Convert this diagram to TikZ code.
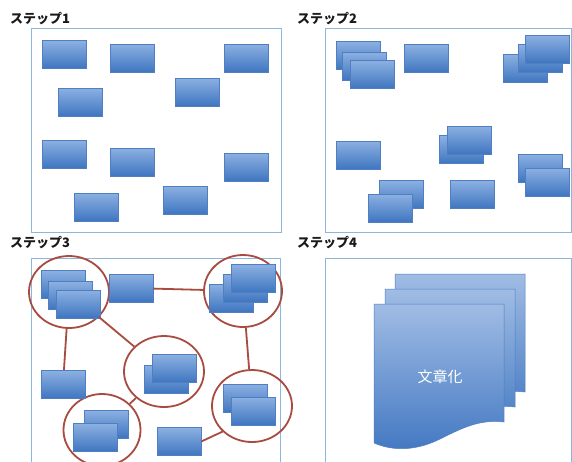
\documentclass[tikz,border=0pt]{standalone}
\usepackage{fontspec}
\newfontfamily\jp{Noto Sans CJK JP}
\usetikzlibrary{shapes.geometric}
\definecolor{frameblue}{HTML}{8DB6DD}
\definecolor{boxtop}{HTML}{8CB0E2}
\definecolor{boxbot}{HTML}{3F76C0}
\definecolor{boxedge}{HTML}{4F7FC0}
\definecolor{doctop}{HTML}{A0BCE4}
\definecolor{docbot}{HTML}{4278C2}
\definecolor{ringred}{HTML}{A84B40}
\tikzset{
  panel/.style={draw=frameblue, line width=0.9pt},
  card/.style={rectangle, minimum width=44pt, minimum height=28pt, inner sep=0pt,
    draw=boxedge, line width=0.5pt, top color=boxtop, bottom color=boxbot},
  ring/.style={ellipse, draw=ringred, line width=1.8pt, inner sep=0pt},
  link/.style={draw=ringred, line width=1.8pt},
  steplabel/.style={anchor=west, inner sep=0pt, font=\jp\bfseries\fontsize{13}{13}\selectfont, text=black!90},
  docpage/.style={draw=boxedge, line width=0.5pt, top color=doctop, bottom color=docbot}
}
\newcommand\docpath{(374,304) -- (504,304) -- (504,422) .. controls (480,419) and (462,428) .. (440,439) .. controls (418,450) and (395,452) .. (374,443) -- cycle}
\begin{document}
\begin{tikzpicture}[x=1pt,y=-1pt]
\clip (0,0) rectangle (572,461);
\fill[white] (0,0) rectangle (572,461);
% labels
\node[steplabel] (l1) at (10,19) {ステップ1};
\node[steplabel] (l2) at (297,19) {ステップ2};
\node[steplabel] (l3) at (10,243) {ステップ3};
\node[steplabel] (l4) at (297,243) {ステップ4};
% frames
\draw[panel] (31,28) rectangle (281,232);
\draw[panel] (325,28) rectangle (571,232);
\draw[panel] (31,258) rectangle (280,475);
\draw[panel] (325,258) rectangle (571,475);
% panel 1
\node[card] (p1a) at (64,54.5) {};
\node[card] (p1b) at (132,58) {};
\node[card] (p1c) at (246,58) {};
\node[card] (p1d) at (80,102) {};
\node[card] (p1e) at (197,92) {};
\node[card] (p1f) at (64,154) {};
\node[card] (p1g) at (132,162) {};
\node[card] (p1h) at (246,167) {};
\node[card] (p1i) at (96,207) {};
\node[card] (p1j) at (185,200) {};
% panel 2
\node[card] (p2a1) at (358,55.5) {};
\node[card] (p2a2) at (364.5,66) {};
\node[card] (p2a3) at (372,74.5) {};
\node[card] (p2b) at (426,58.5) {};
\node[card] (p2c1) at (525.5,68.5) {};
\node[card] (p2c2) at (540,58.5) {};
\node[card] (p2c3) at (547,49) {};
\node[card] (p2d) at (358,155) {};
\node[card] (p2e1) at (461,149.5) {};
\node[card] (p2e2) at (469,140) {};
\node[card] (p2f1) at (540,168) {};
\node[card] (p2f2) at (547,182) {};
\node[card] (p2g1) at (401,194.5) {};
\node[card] (p2g2) at (390,208) {};
\node[card] (p2h) at (472,194.5) {};
% panel 3 rings
\node[ring, minimum width=80pt, minimum height=72pt] (c1) at (69,292) {};
\node[ring, minimum width=78pt, minimum height=72pt] (c2) at (243,291) {};
\node[ring, minimum width=80pt, minimum height=71pt] (c3) at (164,371.5) {};
\node[ring, minimum width=80pt, minimum height=72pt] (c4) at (252,406) {};
\node[ring, minimum width=77pt, minimum height=72pt] (c5) at (102,430) {};
% panel 3 cards
\node[card] (p3a1) at (63,284.5) {};
\node[card] (p3a2) at (70,295.5) {};
\node[card] (p3a3) at (78,304) {};
\node[card] (p3b) at (131,288) {};
\node[card] (p3c1) at (231,298) {};
\node[card] (p3c2) at (245,288) {};
\node[card] (p3c3) at (253,278.5) {};
\node[card] (p3d) at (63,384.5) {};
\node[card] (p3e1) at (166.5,379) {};
\node[card] (p3e2) at (174.5,368.5) {};
\node[card] (p3f1) at (245,398) {};
\node[card] (p3f2) at (253,411) {};
\node[card] (p3g1) at (106,424) {};
\node[card] (p3g2) at (95,437.5) {};
\node[card] (p3h) at (179,441.5) {};
% links
\draw[link] (p3b) -- (c2);
\draw[link] (c1) -- (c3);
\draw[link] (c1) -- (p3d);
\draw[link] (c2) -- (c4);
\draw[link] (c3) -- (c5);
\draw[link] (p3h.east) -- (c4.221);
% panel 4 documents
\begin{scope}[shift={(21,-30)}]
\path[docpage] \docpath;
\end{scope}
\begin{scope}[shift={(11,-15)}]
\path[docpage] \docpath;
\end{scope}
\path[docpage] \docpath;
\node[text=white, font=\jp\fontsize{15}{15}\selectfont] (doc) at (440,377) {文章化};
\end{tikzpicture}
\end{document}
